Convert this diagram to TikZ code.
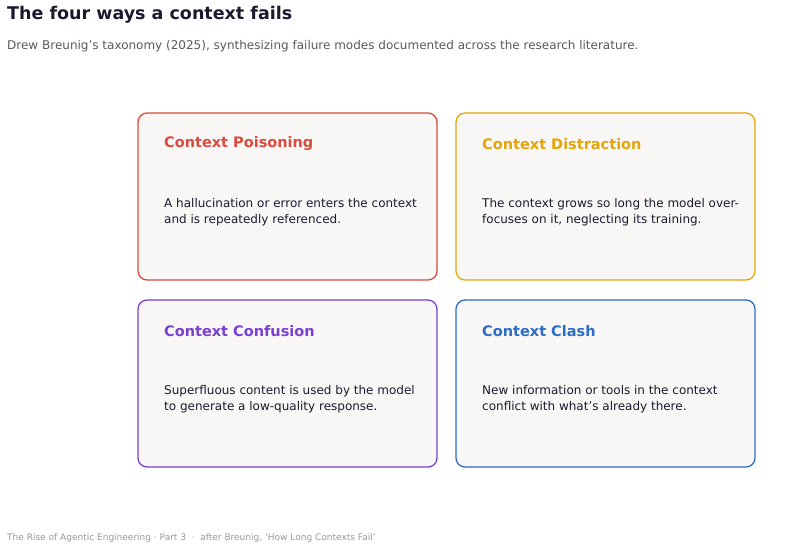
\documentclass[tikz,border=0pt]{standalone}
\usepackage{fontspec}
\setmainfont{DejaVu Sans}
\begin{document}
\begin{tikzpicture}[x=1pt,y=-1pt,
  card/.style={draw=#1,line width=1.3pt,rounded corners=9pt,fill=cardbg},
  ctitle/.style={anchor=west,text=#1,font=\fontsize{14.5}{17}\selectfont\bfseries,inner sep=0},
  cbody/.style={anchor=north west,align=left,text=ink,font=\fontsize{12}{16.5}\selectfont,inner sep=0}]
\definecolor{cardbg}{HTML}{F8F7F6}
\definecolor{ink}{HTML}{1A1A2E}
\definecolor{cred}{HTML}{D94B3F}
\definecolor{corg}{HTML}{E5A50A}
\definecolor{cpur}{HTML}{7B3FD1}
\definecolor{cblu}{HTML}{2B6CC4}
\useasboundingbox (0,0) rectangle (800,551);
\node[anchor=west,inner sep=0,text=ink,font=\fontsize{17.5}{20}\selectfont\bfseries] (t) at (7,15) {The four ways a context fails};
\node[anchor=west,inner sep=0,text=black!65,font=\fontsize{12}{14}\selectfont] (s) at (7,46) {Drew Breunig's taxonomy (2025), synthesizing failure modes documented across the research literature.};
\node[anchor=west,inner sep=0,text=black!40,font=\fontsize{9}{11}\selectfont] (f) at (7,538) {The Rise of Agentic Engineering · Part 3 \ · \ after Breunig, 'How Long Contexts Fail'};
\draw[card=cred] (138,113) rectangle (437,280);
\draw[card=corg] (456,113) rectangle (755,280);
\draw[card=cpur] (138,300) rectangle (437,467);
\draw[card=cblu] (456,300) rectangle (755,467);
\node[ctitle=cred] (a) at (164,144) {Context Poisoning};
\node[ctitle=corg] (b) at (482,144) {Context Distraction};
\node[ctitle=cpur] (c) at (164,331) {Context Confusion};
\node[ctitle=cblu] (d) at (482,331) {Context Clash};
\node[cbody] (a2) at (164,198) {A hallucination or error enters the context\\and is repeatedly referenced.};
\node[cbody] (b2) at (482,198) {The context grows so long the model over-\\focuses on it, neglecting its training.};
\node[cbody] (c2) at (164,385) {Superfluous content is used by the model\\to generate a low-quality response.};
\node[cbody] (d2) at (482,385) {New information or tools in the context\\conflict with what's already there.};
\end{tikzpicture}
\end{document}
